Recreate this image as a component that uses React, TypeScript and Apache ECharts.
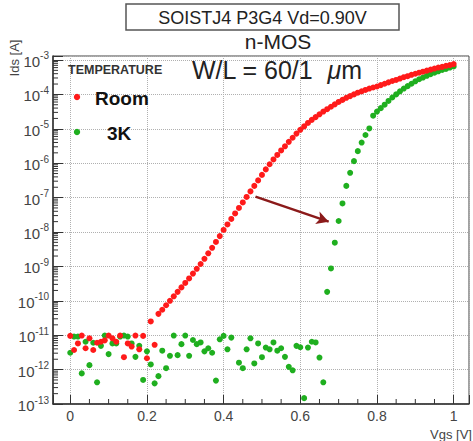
import React, { useEffect, useRef } from 'react';
import * as echarts from 'echarts';

// Gate sweep (Vgs [V])
const vgs = [
  0, 0.01, 0.02, 0.03, 0.04, 0.05, 0.06, 0.07, 0.08, 0.09,
  0.1, 0.11, 0.12, 0.13, 0.14, 0.15, 0.16, 0.17, 0.18, 0.19,
  0.2, 0.21, 0.22, 0.23, 0.24, 0.25, 0.26, 0.27, 0.28, 0.29,
  0.3, 0.31, 0.32, 0.33, 0.34, 0.35, 0.36, 0.37, 0.38, 0.39,
  0.4, 0.41, 0.42, 0.43, 0.44, 0.45, 0.46, 0.47, 0.48, 0.49,
  0.5, 0.51, 0.52, 0.53, 0.54, 0.55, 0.56, 0.57, 0.58, 0.59,
  0.6, 0.61, 0.62, 0.63, 0.64, 0.65, 0.66, 0.67, 0.68, 0.69,
  0.7, 0.71, 0.72, 0.73, 0.74, 0.75, 0.76, 0.77, 0.78, 0.79,
  0.8, 0.81, 0.82, 0.83, 0.84, 0.85, 0.86, 0.87, 0.88, 0.89,
  0.9, 0.91, 0.92, 0.93, 0.94, 0.95, 0.96, 0.97, 0.98, 0.99, 1,
];

// log10(Ids [A]) at room temperature
const roomLogIds = [
  -11.02, -11.43, -11.24, -11.01, -11.38, -11.09, -11.43, -11.22, -11.19, -11.15,
  -11.01, -11.09, -11.19, -11.01, -11.64, -11.24, -11.33, -11.01, -11.41, -11.02,
  -11.67, -10.6, -11.28, -10.38, -10.26, -10.13, -10.0, -9.87, -9.74, -9.61,
  -9.48, -9.35, -9.21, -9.07, -8.93, -8.78, -8.62, -8.46, -8.29, -8.12,
  -7.94, -7.78, -7.62, -7.46, -7.3, -7.14, -6.98, -6.82, -6.66, -6.5,
  -6.34, -6.18, -6.03, -5.89, -5.76, -5.63, -5.51, -5.38, -5.26, -5.14,
  -5.03, -4.93, -4.83, -4.74, -4.66, -4.58, -4.5, -4.43, -4.36, -4.29,
  -4.22, -4.16, -4.1, -4.05, -4.0, -3.95, -3.91, -3.87, -3.83, -3.8,
  -3.77, -3.73, -3.69, -3.65, -3.61, -3.58, -3.54, -3.5, -3.47, -3.43,
  -3.4, -3.37, -3.34, -3.31, -3.28, -3.25, -3.22, -3.2, -3.17, -3.15, -3.12,
];

// log10(Ids [A]) at 3K (null = no visible point)
const coldLogIds = [
  -11.51, -11.04, -11.04, -12.11, -11.19, -11.87, -11.22, -12.37, -11.31, -11.01,
  -11.55, -11.24, -11.24, -11.04, -11.01, -11.04, -11.24, -11.63, -11.31, -12.3,
  -11.47, -11.85, -12.4, -12.19, -11.45, -11.96, -11.6, -11.01, -11.58, -11.26,
  -11.01, -11.6, -11.14, -11.26, -11.21, -11.47, -11.38, -11.51, -12.32, -11.12,
  -11.02, -11.41, -11.07, null, -11.8, -11.96, -11.41, -11.09, -11.82, -11.24,
  -11.64, -11.36, -11.41, -11.21, -11.45, -11.38, -11.63, -11.92, -12.02, -11.31,
  -11.35, -12.83, -11.36, -11.19, -11.21, -11.65, -12.37, -9.74, -9.06, -8.31,
  -7.68, -7.17, -6.66, -6.28, -5.94, -5.65, -5.4, -5.18, -4.99, -4.62,
  -4.5, -4.4, -4.3, -4.19, -4.09, -4.0, -3.91, -3.83, -3.76, -3.69,
  -3.62, -3.56, -3.51, -3.46, -3.41, -3.37, -3.33, -3.29, -3.26, -3.22, -3.19,
];

const seriesNames = ['Room', '3K'];
const seriesColors = ['#ff1a1a', '#1faf1f'];
const xMajorTicks = [0, 0.2, 0.4, 0.6, 0.8, 1];
const yDecades = [-13, -12, -11, -10, -9, -8, -7, -6, -5, -4, -3];
const arrowFrom = [0.483, -6.97];
const arrowTo = [0.674, -7.7];

const xMin = -0.045;
const xMax = 1.04;
const yMin = -13;
const yMax = -2.884;

const FONT = '"Liberation Sans", Arial, Helvetica, sans-serif';

export default function App() {
  const ref = useRef<HTMLDivElement>(null);

  useEffect(() => {
    document.body.style.margin = '0';
    const chart = echarts.init(ref.current!, null, { renderer: 'svg' });

    const roomData = vgs.map((x, i) => [x, roomLogIds[i]]).filter((d) => d[1] != null);
    const coldData = vgs.map((x, i) => [x, coldLogIds[i]]).filter((d) => d[1] != null);

    const yMinor: number[][] = [];
    for (let i = 0; i < yDecades.length - 1; i++) {
      for (let k = 2; k <= 9; k++) yMinor.push([xMin, yDecades[i] + Math.log10(k)]);
    }
    const xMinor: number[][] = [];
    for (let i = 0; i < xMajorTicks.length - 1; i++) {
      for (let k = 1; k <= 3; k++) {
        xMinor.push([Math.round((xMajorTicks[i] + k * 0.05) * 1000) / 1000, yMin]);
      }
    }

    const isMajorX = (v: number) => xMajorTicks.some((t) => Math.abs(t - v) < 1e-6);
    const isDecade = (v: number) => yDecades.some((t) => Math.abs(t - v) < 1e-6);

    const option: any = {
      animation: false,
      backgroundColor: '#ffffff',
      textStyle: { fontFamily: FONT },
      grid: {
        left: 53,
        right: 4,
        top: 56,
        bottom: 37,
        containLabel: false,
        outerBoundsMode: 'none',
        show: true,
        borderColor: '#444',
        borderWidth: 1,
        backgroundColor: 'transparent',
      },
      xAxis: {
        type: 'value',
        min: xMin,
        max: xMax,
        splitNumber: 5,
        axisLine: { show: true, onZero: false, lineStyle: { color: '#333', width: 1.5 } },
        axisTick: { show: true, inside: true, length: 9, lineStyle: { color: '#333', width: 1 } },
        minorTick: { show: false },
        axisLabel: {
          margin: 5,
          fontSize: 14,
          color: '#444',
          fontFamily: FONT,
          showMinLabel: true,
          showMaxLabel: true,
          formatter: (v: number) => (isMajorX(v) ? String(Math.round(v * 10) / 10) : ''),
        },
        splitLine: { show: true, lineStyle: { type: 'dotted', color: '#b0b0b0', width: 1 } },
      },
      yAxis: {
        type: 'value',
        min: yMin,
        max: yMax,
        interval: 1,
        axisLine: { show: true, onZero: false, lineStyle: { color: '#333', width: 1.5 } },
        axisTick: { show: true, inside: true, length: 10, lineStyle: { color: '#333', width: 1 } },
        axisLabel: {
          margin: 4,
          color: '#444',
          fontFamily: FONT,
          formatter: (v: number) => (isDecade(v) ? `{b|10}{s|${Math.round(v)}}` : ''),
          rich: {
            b: { fontSize: 15, lineHeight: 18, verticalAlign: 'bottom', color: '#444', fontFamily: FONT },
            s: { fontSize: 10, lineHeight: 10, verticalAlign: 'top', color: '#444', fontFamily: FONT },
          },
        },
        splitLine: { show: true, lineStyle: { type: 'dotted', color: '#b0b0b0', width: 1 } },
      },
      series: [
        {
          name: seriesNames[0],
          type: 'scatter',
          data: roomData,
          symbol: 'circle',
          symbolSize: 6,
          itemStyle: { color: seriesColors[0], opacity: 1 },
          z: 3,
          markLine: {
            silent: true,
            animation: false,
            symbol: ['none', 'arrow'],
            symbolSize: [10, 12],
            label: { show: false },
            lineStyle: { color: '#8b1a1a', width: 2.5, type: 'solid' },
            data: [[{ coord: arrowFrom }, { coord: arrowTo }]],
          },
        },
        {
          name: seriesNames[1],
          type: 'scatter',
          data: coldData,
          symbol: 'circle',
          symbolSize: 6,
          itemStyle: { color: seriesColors[1], opacity: 1 },
          z: 2,
        },
        {
          type: 'custom',
          data: yMinor,
          silent: true,
          clip: false,
          z: 5,
          encode: { x: 0, y: 1 },
          renderItem: (_p: any, api: any) => {
            const p = api.coord([api.value(0), api.value(1)]);
            return {
              type: 'line',
              shape: { x1: p[0], y1: p[1], x2: p[0] + 5, y2: p[1] },
              style: { stroke: '#333', lineWidth: 1 },
            };
          },
        },
        {
          type: 'custom',
          data: xMinor,
          silent: true,
          clip: false,
          z: 5,
          encode: { x: 0, y: 1 },
          renderItem: (_p: any, api: any) => {
            const p = api.coord([api.value(0), api.value(1)]);
            return {
              type: 'line',
              shape: { x1: p[0], y1: p[1], x2: p[0], y2: p[1] - 5 },
              style: { stroke: '#333', lineWidth: 1 },
            };
          },
        },
      ],
      graphic: [
        {
          type: 'rect',
          shape: { x: 126, y: 4, width: 273, height: 26 },
          style: { fill: '#ffffff', stroke: '#555', lineWidth: 1.5 },
        },
        {
          type: 'text',
          x: 262.5,
          y: 17.5,
          style: {
            text: 'SOISTJ4 P3G4 Vd=0.90V',
            font: `18px ${FONT}`,
            fill: '#222',
            align: 'center',
            verticalAlign: 'middle',
            textAlign: 'center',
            textVerticalAlign: 'middle',
          },
        },
        {
          type: 'text',
          x: 278,
          y: 41,
          style: {
            text: 'n-MOS',
            font: `21px ${FONT}`,
            fill: '#222',
            align: 'center',
            verticalAlign: 'middle',
            textAlign: 'center',
            textVerticalAlign: 'middle',
          },
        },
        {
          type: 'text',
          x: 192,
          y: 70,
          z: 10,
          style: {
            text: '{a|W/L = 60/1  }{m|μ}{a|m}',
            rich: {
              a: { fontSize: 25, fontFamily: FONT, fill: '#222' },
              m: { fontSize: 25, fontFamily: FONT, fill: '#222', fontStyle: 'italic' },
            },
            align: 'left',
            verticalAlign: 'middle',
            textAlign: 'left',
            textVerticalAlign: 'middle',
          },
        },
        {
          type: 'text',
          x: 68,
          y: 70,
          z: 10,
          style: {
            text: 'TEMPERATURE',
            font: `bold 12.5px ${FONT}`,
            fill: '#333',
            align: 'left',
            verticalAlign: 'middle',
            textAlign: 'left',
            textVerticalAlign: 'middle',
          },
        },
        {
          type: 'circle',
          z: 10,
          shape: { cx: 77, cy: 97, r: 3.2 },
          style: { fill: seriesColors[0] },
        },
        {
          type: 'text',
          x: 95,
          y: 98,
          z: 10,
          style: {
            text: seriesNames[0],
            font: `bold 19px ${FONT}`,
            fill: '#111',
            align: 'left',
            verticalAlign: 'middle',
            textAlign: 'left',
            textVerticalAlign: 'middle',
          },
        },
        {
          type: 'circle',
          z: 10,
          shape: { cx: 77, cy: 132, r: 3.2 },
          style: { fill: seriesColors[1] },
        },
        {
          type: 'text',
          x: 107,
          y: 133,
          z: 10,
          style: {
            text: seriesNames[1],
            font: `bold 19px ${FONT}`,
            fill: '#111',
            align: 'left',
            verticalAlign: 'middle',
            textAlign: 'left',
            textVerticalAlign: 'middle',
          },
        },
        {
          type: 'text',
          x: 14,
          y: 58,
          rotation: Math.PI / 2,
          style: {
            text: 'Ids [A]',
            font: `13px ${FONT}`,
            fill: '#444',
            align: 'center',
            verticalAlign: 'middle',
            textAlign: 'center',
            textVerticalAlign: 'middle',
          },
        },
        {
          type: 'text',
          x: 472,
          y: 434,
          style: {
            text: 'Vgs [V]',
            font: `13px ${FONT}`,
            fill: '#444',
            align: 'right',
            verticalAlign: 'middle',
            textAlign: 'right',
            textVerticalAlign: 'middle',
          },
        },
      ],
    };

    chart.setOption(option);
    return () => chart.dispose();
  }, []);

  return <div ref={ref} style={{ width: 473, height: 441 }} />;
}
